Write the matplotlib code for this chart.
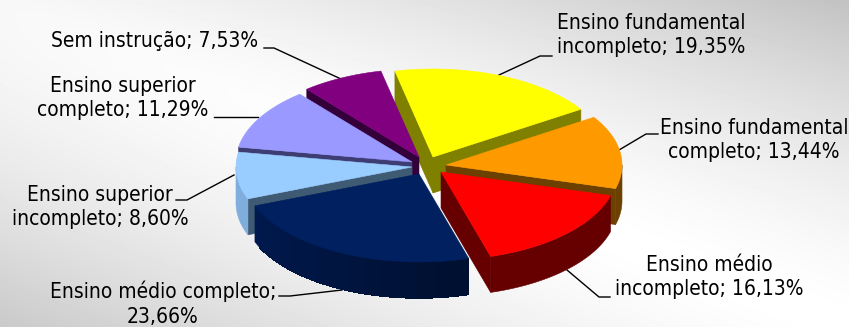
import numpy as np
import matplotlib.pyplot as plt
from matplotlib.colors import to_rgb

plt.rcParams['font.family'] = ['DejaVu Sans']

# share of each schooling level, clockwise from the yellow slice
categories = ['Ensino fundamental\nincompleto', 'Ensino fundamental\ncompleto',
              'Ensino médio\nincompleto', 'Ensino médio completo',
              'Ensino superior\nincompleto', 'Ensino superior\ncompleto',
              'Sem instrução']
values = [19.35, 13.44, 16.13, 23.66, 8.60, 11.29, 7.53]
separators = ['; ', '; ', '; ', ';\n', '; ', '; ', '; ']

top_colors = ['#FFFF00', '#FF9900', '#FF0000', '#002060', '#99CCFF', '#9999FF', '#800080']
wall_colors = ['#808000', '#6B4000', '#660000', '#001A50', '#80AEDC', '#3D3D73', '#33003A']
cut_colors = ['#808000', '#6B4000', '#660000', '#001A50', '#3F5A73', '#3D3D73', '#33003A']

# apex of every exploded slice, in pixels
apex_x = [433, 446, 441, 419, 412, 412, 419]
apex_y = [157, 165, 172, 174, 167, 162, 157]

RX, RY, DEPTH = 176, 88, 36
START_ANGLE = -12.5
W, H = 849, 327


def rim(x0, y0, a1, a2, n=60):
    t = np.radians(np.linspace(a1, a2, n))
    return x0 + RX * np.sin(t), y0 - RY * np.cos(t)


def face(ax, xs, ys, color, z, smooth=True):
    ax.fill(xs, ys, color=color, lw=0.4, zorder=z, antialiased=smooth)


fig = plt.figure(figsize=(W / 100, H / 100), dpi=100)
ax = fig.add_axes([0, 0, 1, 1])
ax.set_xlim(0, W)
ax.set_ylim(H, 0)
ax.axis('off')

# slide background: white along one diagonal, grey towards the other two corners
gx, gy = np.meshgrid(np.linspace(0, 1, W), np.linspace(0, 1, H))
shade = 1 - 0.21 * np.abs(gx - gy) ** 1.4 - 0.03 * (1 - gy) ** 3
ax.imshow(shade, cmap='gray', vmin=0, vmax=1, extent=[0, W, H, 0], aspect='auto', zorder=0)

bounds = START_ANGLE + np.concatenate([[0], np.cumsum(values)]) * 3.6
# painter's order: back slices first, the red one last
order = [0, 1, 6, 5, 4, 3, 2]
for z, i in enumerate(order, start=2):
    a1, a2 = bounds[i], bounds[i + 1]
    x0, y0 = apex_x[i], apex_y[i]

    # cut faces that look towards the viewer
    for ang, visible in ((a1, np.sin(np.radians(a1)) < 0), (a2, np.sin(np.radians(a2)) > 0)):
        if visible:
            ex, ey = rim(x0, y0, ang, ang, 1)
            face(ax, [x0, ex[0], ex[0], x0], [y0, ey[0], ey[0] + DEPTH, y0 + DEPTH], cut_colors[i], z)

    # outer wall, only where the rim faces front
    lo, hi = max(a1, 90), min(a2, 270)
    if lo < hi:
        ex, ey = rim(x0, y0, lo, hi)
        face(ax, np.r_[ex, ex[::-1]], np.r_[ey, ey[::-1] + DEPTH], wall_colors[i], z)
        if i == 3:
            # the navy wall gets darker towards its right end, in visible bands
            base = np.array(to_rgb(wall_colors[i]))
            for k in range(0, len(ex) - 4, 4):
                f = 0.6 + 0.4 * k / (len(ex) - 1)
                face(ax, np.r_[ex[k:k + 5], ex[k:k + 5][::-1]],
                     np.r_[ey[k:k + 5], ey[k:k + 5][::-1] + DEPTH], tuple(base * f), z, smooth=False)

    ex, ey = rim(x0, y0, a1, a2)
    face(ax, np.r_[x0, ex], np.r_[y0, ey], top_colors[i], z + 0.5)

# labels and their leader lines
label_x = [651, 754, 709, 163, 100, 123, 155]
label_y = [35, 140, 277, 304, 207, 98, 41]
leaders = [([499, 540, 552], [75, 56, 56]),
           ([619, 646, 658], [150, 134, 134]),
           ([567, 599, 610], [270, 297, 297]),
           ([342, 290, 279], [290, 296, 296]),
           ([234, 187, 176], [175, 200, 200]),
           ([258, 214], [117, 117]),
           ([341, 274, 264], [79, 48, 48])]
for i, name in enumerate(categories):
    text = f'{name}{separators[i]}{values[i]:.2f}%'.replace('.', ',')
    ax.text(label_x[i], label_y[i], text, ha='center', va='center', fontsize=15,
            fontstretch='condensed', color='black', linespacing=1.3, zorder=20)
    ax.plot(leaders[i][0], leaders[i][1], color='black', lw=1.0, zorder=1.5)

fig.savefig('out.png', dpi=100)
